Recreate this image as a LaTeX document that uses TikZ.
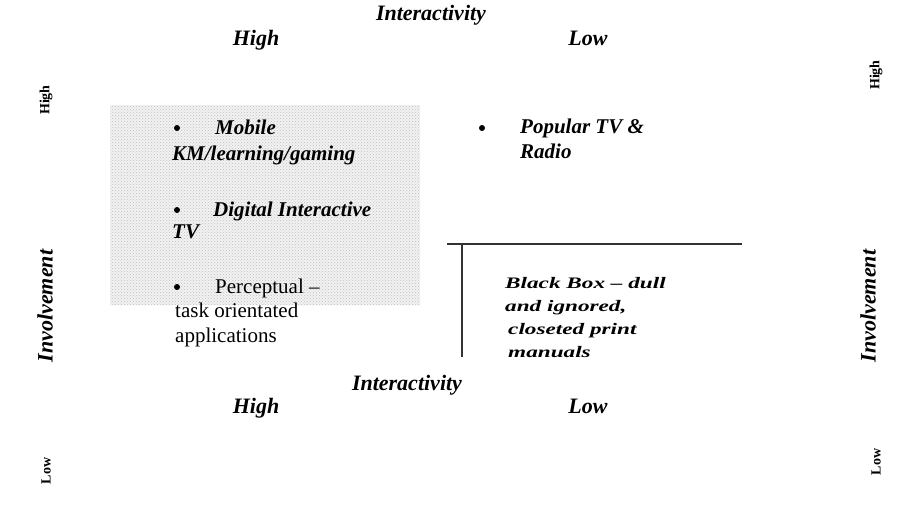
\documentclass[tikz,border=0pt]{standalone}
\usepackage{fontspec}
\setmainfont{Liberation Serif}
\newfontfamily\widefont[FakeStretch=1.45]{Liberation Serif}
\usetikzlibrary{patterns}

\tikzset{
  axis/.style   = {font=\fontsize{22}{26}\selectfont\bfseries\itshape, inner sep=0, anchor=base},
  level/.style  = {font=\fontsize{22}{26}\selectfont\bfseries\itshape, inner sep=0, anchor=base},
  side/.style   = {font=\fontsize{14}{16}\selectfont\bfseries, inner sep=0, rotate=90},
  sideaxis/.style = {font=\fontsize{22}{26}\selectfont\bfseries\itshape, inner sep=0, rotate=90},
  item/.style   = {font=\fontsize{21}{26}\selectfont\bfseries\itshape, inner sep=0, anchor=base west},
  plainitem/.style = {font=\fontsize{21}{26}\selectfont, inner sep=0, anchor=base west},
  wideline/.style = {font=\widefont\fontsize{16}{23}\selectfont\bfseries\itshape, inner sep=0,
                    anchor=base west},
  dot/.style    = {circle, fill=black, inner sep=0, minimum size=6pt},
  rule/.style   = {line width=1.2pt, draw=black!80},
  shade/.style  = {fill=black!5, draw=none},
}

\begin{document}
\begin{tikzpicture}[x=1pt, y=-1pt]
\useasboundingbox (0,0) rectangle (918,504);

% stippled highlight of the high/high quadrant
\path[shade] (110,105) rectangle (420,305);
\path[pattern=crosshatch dots, pattern color=black!25] (110,105) rectangle (420,305);

% top axis
\node[axis]  (topint)  at (431,20) {Interactivity};
\node[level] (tophigh) at (256,45) {High};
\node[level] (toplow)  at (588,45) {Low};

% bottom axis
\node[axis]  (botint)  at (407,390) {Interactivity};
\node[level] (bothigh) at (256,413) {High};
\node[level] (botlow)  at (588,413) {Low};

% left axis
\node[side]     (lhigh) at (46,100) {High};
\node[sideaxis] (linv)  at (45,306) {Involvement};
\node[side]     (llow)  at (46,471) {Low};

% right axis
\node[side]     (rhigh) at (876,75)  {High};
\node[sideaxis] (rinv)  at (868,306) {Involvement};
\node[side]     (rlow)  at (876,462) {Low};

% high interactivity, high involvement
\node[dot]  (d1) at (177,128) {};
\node[item] (mob)  at (215,134) {Mobile};
\node[item] (km)   at (172,160) {KM/learning/gaming};
\node[dot]  (d2) at (177,210) {};
\node[item] (dit)  at (213,216) {Digital Interactive};
\node[item] (tv)   at (172,238) {TV};
\node[dot]  (d3) at (177,287) {};
\node[plainitem] (perc) at (215,293) {Perceptual –};
\node[plainitem] (task) at (175,317) {task orientated};
\node[plainitem] (appl) at (175,342) {applications};

% low interactivity, high involvement
\node[dot]  (d4) at (482,128) {};
\node[item] (pop)   at (520,133) {Popular TV \&};
\node[item] (radio) at (520,158) {Radio};

% low interactivity, low involvement
\coordinate (hl) at (447,244);
\coordinate (hr) at (742,244);
\coordinate (vt) at (462,244);
\coordinate (vb) at (462,357);
\draw[rule] (hl) -- (hr);
\draw[rule] (vt) -- (vb);
\node[wideline] (bb1) at (505,288) {Black Box – dull};
\node[wideline] (bb2) at (505,311) {and ignored,};
\node[wideline] (bb3) at (508,334) {closeted print};
\node[wideline] (bb4) at (508,357) {manuals};
\end{tikzpicture}
\end{document}
